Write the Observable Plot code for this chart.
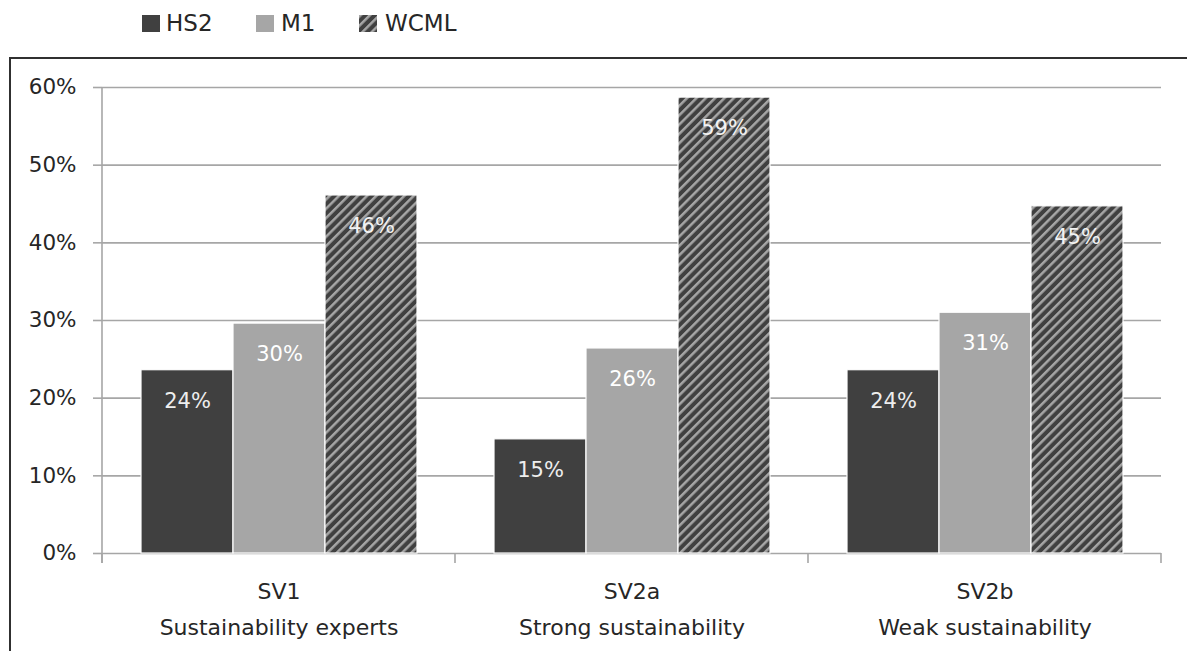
<!DOCTYPE html>
<html>
<head>
<meta charset="utf-8">
<script src="https://cdn.jsdelivr.net/npm/d3@7"></script>
<script src="https://cdn.jsdelivr.net/npm/@observablehq/plot@0.6"></script>
<style>
  html, body { margin: 0; padding: 0; background: #fff; width: 1187px; height: 651px; overflow: hidden; }
  #frame { position: absolute; left: 9px; top: 57px; width: 1300px; height: 700px;
           border-left: 2px solid #303030; border-top: 2px solid #303030; z-index: 0; }
  #chart { position: absolute; left: 0; top: 0; z-index: 1; }
  #legend { position: absolute; left: 0; top: 0; width: 600px; height: 50px; z-index: 2;
            font-family: "DejaVu Sans", sans-serif; font-size: 23px; color: #262626; }
  .sw { position: absolute; top: 15px; width: 18px; height: 17px; display: block; }
  .lt { position: absolute; top: 8px; line-height: 30px; white-space: nowrap; }
</style>
</head>
<body>
<svg width="0" height="0" style="position:absolute">
  <defs>
    <pattern id="hatch" patternUnits="userSpaceOnUse" width="6.6" height="6.6" patternTransform="rotate(45)">
      <rect width="6.6" height="6.6" fill="#404040"></rect>
      <rect x="0" y="0" width="2.5" height="6.6" fill="#a6a6a6"></rect>
    </pattern>
  </defs>
</svg>
<div id="frame"></div>
<div id="legend"></div>
<div id="chart"></div>
<script>
// ---- data ----
const groups = ["SV1", "SV2a", "SV2b"];
const groupNames = ["Sustainability experts", "Strong sustainability", "Weak sustainability"];
const series = ["HS2", "M1", "WCML"];
const hs2 = [23.6, 14.7, 23.6];
const m1 = [29.6, 26.4, 31.0];
const wcml = [46.1, 58.7, 44.7];
const yTicks = [0, 10, 20, 30, 40, 50, 60];
const seriesColors = ["#404040", "#a6a6a6", "url(#hatch)"];
const labelColors = ["#eeeeee", "#ffffff", "#f2f2f2"];
const legendSwatchX = [142, 256, 359];
const legendTextX = [166, 281, 385];

const values = [hs2, m1, wcml];
const data = [];
groups.forEach((g, i) => series.forEach((s, j) => data.push({group: g, series: s, value: values[j][i]})));
const groupLabels = groups.map((g, i) => ({group: g, label: g + "\n" + groupNames[i]}));

// ---- legend ----
const legend = document.getElementById("legend");
series.forEach((s, j) => {
  const sw = document.createElementNS("http://www.w3.org/2000/svg", "svg");
  sw.setAttribute("class", "sw");
  sw.setAttribute("viewBox", "0 0 18 17");
  sw.style.left = legendSwatchX[j] + "px";
  sw.innerHTML = `<rect width="18" height="17" fill="${seriesColors[j]}"></rect>`;
  legend.appendChild(sw);
  const t = document.createElement("span");
  t.className = "lt";
  t.style.left = legendTextX[j] + "px";
  t.textContent = s;
  legend.appendChild(t);
});

// ---- chart ----
const plot = Plot.plot({
  width: 1187,
  height: 651,
  marginTop: 87,
  marginBottom: 98,
  marginLeft: 101,
  marginRight: 25,
  style: {fontFamily: "DejaVu Sans, sans-serif", fontSize: "22px", color: "#404040", background: "transparent"},
  fx: {domain: groups, padding: 0, axis: null},
  x: {domain: series, paddingInner: 0, paddingOuter: 0.417, axis: null},
  y: {domain: [0, 60], label: null},
  color: {domain: series, range: seriesColors},
  marks: [
    Plot.gridY(yTicks, {stroke: "#a6a6a6", strokeOpacity: 1, strokeWidth: 1.6}),
    Plot.barY(data, {fx: "group", x: "series", y: "value", fill: "series", stroke: "white", strokeWidth: 1.2}),
    Plot.text(data, {
      fx: "group", x: "series", y: "value",
      text: d => Math.round(d.value) + "%",
      dy: 31, fontSize: 21,
      fill: d => labelColors[series.indexOf(d.series)]
    }),
    Plot.text(groupLabels, {
      fx: "group", text: "label", frameAnchor: "bottom", lineAnchor: "top",
      dy: 21, lineHeight: 1.6, fontSize: 22, fill: "#262626"
    }),
    Plot.axisY(yTicks, {
      label: null,
      tickSize: 9, tickPadding: 17, tickFormat: d => d + "%",
      stroke: "#a6a6a6", strokeWidth: 1.6, fill: "#262626", fontSize: 21.5
    })
  ]
});
document.getElementById("chart").appendChild(plot);

// axis lines and category boundary ticks, positioned with the plot's own scales
const fx = plot.scale("fx");
const y = plot.scale("y");
const svg = d3.select(plot);
const y0 = y.apply(0), yTop = y.apply(60);
const g = svg.append("g").attr("stroke", "#a6a6a6").attr("stroke-width", 1.6);
const x0 = fx.apply(groups[0]);
g.append("line").attr("x1", x0).attr("x2", x0).attr("y1", yTop).attr("y2", y0 + 10);
const bounds = groups.map(d => fx.apply(d)).concat([fx.apply(groups[groups.length - 1]) + fx.bandwidth]);
bounds.forEach(b => g.append("line").attr("x1", b).attr("x2", b).attr("y1", y0).attr("y2", y0 + 10));
</script>
</body>
</html>
